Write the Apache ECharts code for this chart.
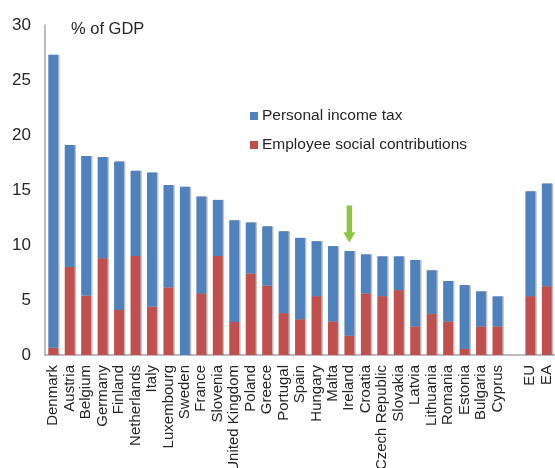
<!DOCTYPE html>
<html>
<head>
<meta charset="utf-8">
<script src="https://cdn.jsdelivr.net/npm/echarts@6/dist/echarts.min.js"></script>
<style>
  html, body { margin: 0; padding: 0; background: #fff; }
  #chart { width: 555px; height: 468px; }
</style>
</head>
<body>
<div id="chart"></div>
<script>
// '' is the blank slot between Cyprus and EU
const countries = [
  'Denmark', 'Austria', 'Belgium', 'Germany', 'Finland', 'Netherlands', 'Italy',
  'Luxembourg', 'Sweden', 'France', 'Slovenia', 'United Kingdom', 'Poland', 'Greece',
  'Portugal', 'Spain', 'Hungary', 'Malta', 'Ireland', 'Croatia', 'Czech Republic',
  'Slovakia', 'Latvia', 'Lithuania', 'Romania', 'Estonia', 'Bulgaria', 'Cyprus',
  '', 'EU', 'EA'
]
const socialContrib = [
  0.65, 8.0, 5.4, 8.8, 4.1, 9.0, 4.4,
  6.15, 0, 5.6, 9.0, 3.0, 7.4, 6.3,
  3.8, 3.25, 5.35, 3.05, 1.75, 5.6, 5.35,
  5.9, 2.6, 3.75, 3.05, 0.55, 2.6, 2.6,
  null, 5.35, 6.25
]
const incomeTax = [
  26.65, 11.1, 12.7, 9.2, 13.5, 7.75, 12.2,
  9.3, 15.3, 8.8, 5.1, 9.25, 4.65, 5.4,
  7.45, 7.4, 5.0, 6.85, 7.7, 3.55, 3.62,
  3.07, 6.04, 3.95, 3.68, 5.81, 3.19, 2.73,
  null, 9.53, 9.35
]
const yTicks = { min: 0, max: 30, step: 5 }
const arrowAt = 'Ireland'

const chart = echarts.init(document.getElementById('chart'))
const font = '"Liberation Sans", Arial, sans-serif'
const arrowIdx = countries.indexOf(arrowAt)
const arrowTop = socialContrib[arrowIdx] + incomeTax[arrowIdx]

chart.setOption({
  animation: false,
  textStyle: { fontFamily: font, color: '#404040' },
  title: {
    text: '% of GDP',
    left: 66,
    top: 16,
    textStyle: { fontSize: 16.5, fontWeight: 'normal', color: '#262626', fontFamily: font },
  },
  legend: {
    data: ['Personal income tax', 'Employee social contributions'],
    orient: 'vertical',
    left: 245,
    top: 103,
    itemWidth: 8,
    itemHeight: 8,
    itemGap: 13,
    icon: 'rect',
    textStyle: { fontSize: 15.5, color: '#262626', fontFamily: font, padding: [0, 0, 0, -1] },
  },
  // labels at the bottom are allowed to run off the page, as in the original
  grid: { left: 45, right: 0, top: 25, bottom: 113, outerBoundsMode: 'none', containLabel: false },
  xAxis: {
    type: 'category',
    data: countries,
    axisLine: { lineStyle: { color: '#a6a6a6', width: 1.5 } },
    axisTick: { show: false },
    axisLabel: { interval: 0, rotate: 90, fontSize: 15, color: '#262626', margin: 10 },
  },
  yAxis: {
    type: 'value',
    min: yTicks.min,
    max: yTicks.max,
    interval: yTicks.step,
    axisLine: { show: true, lineStyle: { color: '#a6a6a6', width: 1.5 } },
    axisTick: { show: false },
    splitLine: { show: false },
    axisLabel: { fontSize: 17, color: '#262626', margin: 14 },
  },
  series: [
    {
      name: 'Employee social contributions',
      type: 'bar',
      stack: 'total',
      barWidth: '60%',
      data: socialContrib,
      itemStyle: { color: '#C0504D', shadowColor: 'rgba(0,0,0,0.25)', shadowOffsetX: 1.5 },
    },
    {
      name: 'Personal income tax',
      type: 'bar',
      stack: 'total',
      barWidth: '60%',
      data: incomeTax,
      itemStyle: { color: '#4F81BD', shadowColor: 'rgba(0,0,0,0.25)', shadowOffsetX: 1.5 },
      markPoint: {
        silent: true,
        data: [{
          coord: [arrowAt, arrowTop],
          symbol: 'path://M3,0 L8,0 L8,26 L11,26 L5.5,36 L0,26 L3,26 Z',
          symbolSize: [12, 37],
          symbolOffset: [0, -27],
          itemStyle: { color: '#8DC63F' },
          label: { show: false },
        }],
      },
    },
  ],
})
</script>
</body>
</html>
